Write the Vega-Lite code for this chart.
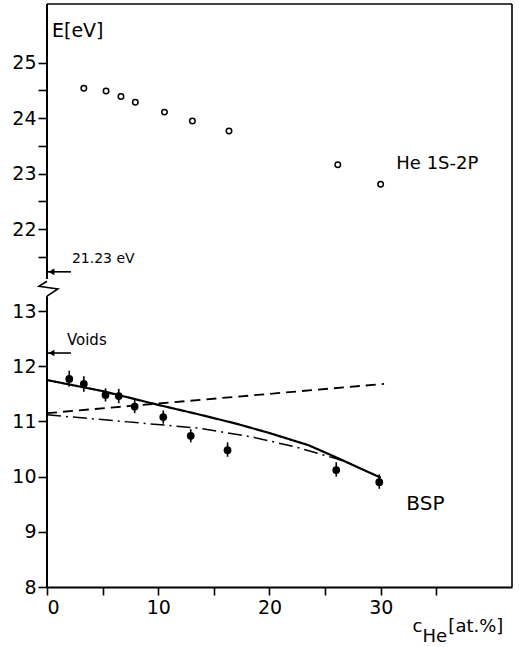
{
  "$schema": "https://vega.github.io/schema/vega-lite/v6.json",
  "padding": {"left": 11, "top": 3, "right": 4, "bottom": 0},
  "spacing": 0,
  "bounds": "flush",
  "config": {
    "view": {"stroke": null},
    "font": "DejaVu Sans",
    "axis": {"domain": false, "grid": false, "tickColor": "black", "tickWidth": 1.6, "tickSize": 9, "labelColor": "black", "labelFont": "DejaVu Sans", "labelFontSize": 19, "labelPadding": 2, "title": null, "format": "d"}
  },
  "datasets": {
    "one": [{}],
    "he": [
      {"c": 3.31, "E": 24.54}, {"c": 5.31, "E": 24.49}, {"c": 6.65, "E": 24.39}, {"c": 7.94, "E": 24.29},
      {"c": 10.56, "E": 24.11}, {"c": 13.07, "E": 23.95}, {"c": 16.36, "E": 23.77}, {"c": 26.14, "E": 23.16}, {"c": 29.99, "E": 22.81}
    ],
    "bsp": [
      {"c": 2.0, "E": 11.77, "lo": 11.63, "hi": 11.92}, {"c": 3.31, "E": 11.68, "lo": 11.54, "hi": 11.82},
      {"c": 5.26, "E": 11.48, "lo": 11.36, "hi": 11.6}, {"c": 6.45, "E": 11.46, "lo": 11.33, "hi": 11.59},
      {"c": 7.88, "E": 11.27, "lo": 11.15, "hi": 11.39}, {"c": 10.45, "E": 11.08, "lo": 10.96, "hi": 11.2},
      {"c": 12.92, "E": 10.74, "lo": 10.62, "hi": 10.86}, {"c": 16.23, "E": 10.48, "lo": 10.36, "hi": 10.62},
      {"c": 26.0, "E": 10.12, "lo": 10.0, "hi": 10.26}, {"c": 29.87, "E": 9.9, "lo": 9.78, "hi": 10.04}
    ],
    "curves": [
      {"s": "solid", "o": 1, "c": 0, "E": 11.75}, {"s": "solid", "o": 2, "c": 5, "E": 11.55}, {"s": "solid", "o": 3, "c": 10, "E": 11.3},
      {"s": "solid", "o": 4, "c": 13.6, "E": 11.13}, {"s": "solid", "o": 5, "c": 17, "E": 10.96}, {"s": "solid", "o": 6, "c": 20, "E": 10.79},
      {"s": "solid", "o": 7, "c": 23.5, "E": 10.57}, {"s": "solid", "o": 8, "c": 26.1, "E": 10.34}, {"s": "solid", "o": 9, "c": 30, "E": 9.98},
      {"s": "dashed", "o": 1, "c": 0, "E": 11.15}, {"s": "dashed", "o": 2, "c": 30.3, "E": 11.68},
      {"s": "dashdot", "o": 1, "c": 0, "E": 11.12}, {"s": "dashdot", "o": 2, "c": 13.6, "E": 10.88}, {"s": "dashdot", "o": 3, "c": 18.4, "E": 10.72},
      {"s": "dashdot", "o": 4, "c": 22.3, "E": 10.54}, {"s": "dashdot", "o": 5, "c": 26.1, "E": 10.32}, {"s": "dashdot", "o": 6, "c": 27.5, "E": 10.22}
    ],
    "zig": [
      {"o": 1, "c": 0, "E": 13.54}, {"o": 2, "c": -0.72, "E": 13.45}, {"o": 3, "c": 0.98, "E": 13.4}, {"o": 4, "c": 0, "E": 13.27}
    ]
  },
  "vconcat": [
    {
      "width": 465,
      "height": 285,
      "layer": [
        {"data": {"name": "he"}, "mark": {"type": "point", "shape": "circle", "filled": false, "color": "black", "strokeWidth": 1.5, "size": 30, "opacity": 1},
          "encoding": {
            "x": {"field": "c", "type": "quantitative", "scale": {"domain": [0, 41.8], "nice": false}, "axis": null},
            "y": {"field": "E", "type": "quantitative", "scale": {"domain": [20.92, 26.06], "nice": false, "zero": false}, "axis": {"values": [21.5, 22, 22.5, 23, 23.5, 24, 24.5, 25], "labelExpr": "datum.value % 1 === 0 ? datum.label : ''"}}
          }},
        {"data": {"name": "one"}, "mark": {"type": "rule", "strokeWidth": 1.6, "color": "black"}, "encoding": {"y": {"datum": 26.06, "type": "quantitative"}}},
        {"data": {"name": "one"}, "mark": {"type": "rule", "strokeWidth": 1.6, "color": "black"}, "encoding": {"x": {"datum": 41.8, "type": "quantitative"}}},
        {"data": {"name": "one"}, "mark": {"type": "rule", "strokeWidth": 2, "color": "black"}, "encoding": {"x": {"datum": 0, "type": "quantitative"}, "y": {"datum": 21.1, "type": "quantitative"}, "y2": {"datum": 26.06}}},
        {"data": {"name": "one"}, "mark": {"type": "rule", "strokeWidth": 1.6, "color": "black"}, "encoding": {"x": {"datum": 0, "type": "quantitative"}, "x2": {"datum": 2.15}, "y": {"datum": 21.23, "type": "quantitative"}}},
        {"data": {"name": "one"}, "mark": {"type": "point", "shape": "triangle-left", "filled": true, "color": "black", "size": 45, "opacity": 1}, "encoding": {"x": {"datum": 0.4, "type": "quantitative"}, "y": {"datum": 21.23, "type": "quantitative"}}},
        {"data": {"name": "one"}, "mark": {"type": "text", "text": "E[eV]", "align": "left", "baseline": "middle", "fontSize": 19, "color": "black"}, "encoding": {"x": {"datum": 0.45, "type": "quantitative"}, "y": {"datum": 25.57, "type": "quantitative"}}},
        {"data": {"name": "one"}, "mark": {"type": "text", "text": "21.23 eV", "align": "left", "baseline": "middle", "fontSize": 14, "color": "black"}, "encoding": {"x": {"datum": 2.24, "type": "quantitative"}, "y": {"datum": 21.46, "type": "quantitative"}}},
        {"data": {"name": "one"}, "mark": {"type": "text", "text": "He 1S-2P", "align": "left", "baseline": "middle", "fontSize": 18, "color": "black"}, "encoding": {"x": {"datum": 31.4, "type": "quantitative"}, "y": {"datum": 23.17, "type": "quantitative"}}}
      ]
    },
    {
      "width": 465,
      "height": 298,
      "layer": [
        {"data": {"name": "curves"}, "mark": {"type": "line", "color": "black"},
          "encoding": {
            "x": {"field": "c", "type": "quantitative", "scale": {"domain": [0, 41.8], "nice": false}, "axis": {"domain": true, "domainColor": "black", "domainWidth": 2, "tickSize": 8, "values": [0, 5, 10, 15, 20, 25, 30, 35], "labelExpr": "datum.value % 10 === 0 ? datum.label : ''", "labelPadding": 3}},
            "y": {"field": "E", "type": "quantitative", "scale": {"domain": [8, 13.4], "nice": false, "zero": false}, "axis": {"values": [8, 8.5, 9, 9.5, 10, 10.5, 11, 11.5, 12, 12.5, 13], "labelExpr": "datum.value % 1 === 0 ? datum.label : ''"}},
            "detail": {"field": "s"},
            "order": {"field": "o"},
            "strokeDash": {"field": "s", "type": "nominal", "scale": {"domain": ["solid", "dashed", "dashdot"], "range": [[1, 0], [10, 6], [14, 5, 2, 5]]}, "legend": null},
            "strokeWidth": {"field": "s", "type": "nominal", "scale": {"domain": ["solid", "dashed", "dashdot"], "range": [2.2, 1.5, 1.5]}, "legend": null}
          }},
        {"data": {"name": "one"}, "mark": {"type": "rule", "strokeWidth": 1.6, "color": "black"}, "encoding": {"x": {"datum": 41.8, "type": "quantitative"}}},
        {"data": {"name": "one"}, "mark": {"type": "rule", "strokeWidth": 2, "color": "black"}, "encoding": {"x": {"datum": 0, "type": "quantitative"}, "y": {"datum": 8, "type": "quantitative"}, "y2": {"datum": 13.27}}},
        {"data": {"name": "zig"}, "mark": {"type": "line", "color": "black", "strokeWidth": 1.6}, "encoding": {"x": {"field": "c", "type": "quantitative"}, "y": {"field": "E", "type": "quantitative"}, "order": {"field": "o"}}},
        {"data": {"name": "one"}, "mark": {"type": "rule", "strokeWidth": 1.6, "color": "black"}, "encoding": {"x": {"datum": 0, "type": "quantitative"}, "x2": {"datum": 2.15}, "y": {"datum": 12.24, "type": "quantitative"}}},
        {"data": {"name": "one"}, "mark": {"type": "point", "shape": "triangle-left", "filled": true, "color": "black", "size": 45, "opacity": 1}, "encoding": {"x": {"datum": 0.4, "type": "quantitative"}, "y": {"datum": 12.24, "type": "quantitative"}}},
        {"data": {"name": "bsp"}, "mark": {"type": "rule", "color": "black", "strokeWidth": 1.6}, "encoding": {"x": {"field": "c", "type": "quantitative"}, "y": {"field": "lo", "type": "quantitative"}, "y2": {"field": "hi"}}},
        {"data": {"name": "bsp"}, "mark": {"type": "point", "shape": "circle", "filled": true, "color": "black", "size": 60, "opacity": 1}, "encoding": {"x": {"field": "c", "type": "quantitative"}, "y": {"field": "E", "type": "quantitative"}}},
        {"data": {"name": "one"}, "mark": {"type": "text", "text": "Voids", "align": "left", "baseline": "middle", "fontSize": 15, "color": "black"}, "encoding": {"x": {"datum": 1.79, "type": "quantitative"}, "y": {"datum": 12.47, "type": "quantitative"}}},
        {"data": {"name": "one"}, "mark": {"type": "text", "text": "BSP", "align": "left", "baseline": "middle", "fontSize": 20, "color": "black"}, "encoding": {"x": {"datum": 32.3, "type": "quantitative"}, "y": {"datum": 9.5, "type": "quantitative"}}},
        {"data": {"name": "one"}, "mark": {"type": "text", "text": "c", "align": "left", "baseline": "alphabetic", "fontSize": 18, "color": "black"}, "encoding": {"x": {"datum": 32.86, "type": "quantitative"}, "y": {"datum": 7.18, "type": "quantitative"}}},
        {"data": {"name": "one"}, "mark": {"type": "text", "text": "He", "align": "left", "baseline": "alphabetic", "fontSize": 18, "color": "black"}, "encoding": {"x": {"datum": 33.75, "type": "quantitative"}, "y": {"datum": 7.0, "type": "quantitative"}}},
        {"data": {"name": "one"}, "mark": {"type": "text", "text": "[at.%]", "align": "left", "baseline": "alphabetic", "fontSize": 18, "color": "black"}, "encoding": {"x": {"datum": 36.08, "type": "quantitative"}, "y": {"datum": 7.18, "type": "quantitative"}}}
      ]
    }
  ]
}
